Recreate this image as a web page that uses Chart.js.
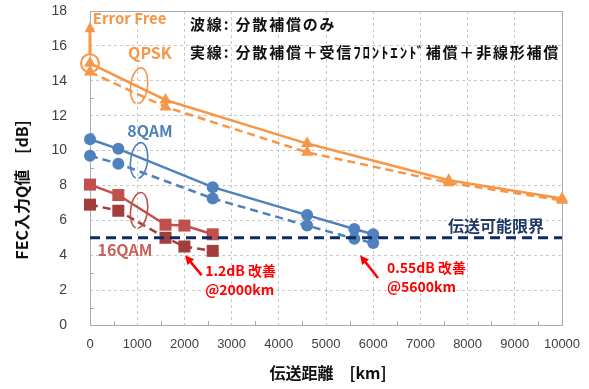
<!DOCTYPE html>
<html>
<head>
<meta charset="utf-8">
<script src="https://cdn.jsdelivr.net/npm/chart.js@4/dist/chart.umd.min.js"></script>
<style>
  html, body { margin: 0; padding: 0; background: #fff; }
</style>
</head>
<body>
<canvas id="c" width="589" height="389"></canvas>
<script>
// distances [km] and FEC input Q [dB]
var qpskDist    = [0, 1600, 4600, 7600, 10000];
var qpskFull    = [15.0, 12.9, 10.4, 8.3, 7.25];
var qpskCdOnly  = [14.5, 12.5, 9.9, 8.15, 7.15];

var qam8Dist    = [0, 600, 2600, 4600, 5600, 6000];
var qam8Full    = [10.65, 10.1, 7.9, 6.3, 5.5, 5.2];
var qam8CdOnly  = [9.7, 9.25, 7.25, 5.7, 4.95, 4.7];

var qam16Dist   = [0, 600, 1600, 2000, 2600];
var qam16Full   = [8.05, 7.45, 5.75, 5.7, 5.2];
var qam16CdOnly = [6.9, 6.55, 5.0, 4.5, 4.25];

var limitDist   = [0, 10000];
var limitQ      = [5, 5];
var errorFreeQ  = [15.0, 17.4];

var xTicks = [0, 1000, 2000, 3000, 4000, 5000, 6000, 7000, 8000, 9000, 10000];
var yTicks = [0, 2, 4, 6, 8, 10, 12, 14, 16, 18];

var ORANGE = '#F79646', BLUE = '#4F81BD', RED = '#C0504D', RED_DK = '#A23F3C', NAVY = '#0E2A62';
var JP = '"Noto Sans CJK JP", "Noto Sans", sans-serif';

function pts(xs, ys) {
	return xs.map(function(x, i) { return {x: x, y: ys[i]}; });
}

function series(xs, ys, color, style, radius, dashed) {
	return {
		data: pts(xs, ys),
		showLine: true,
		borderColor: color,
		backgroundColor: color,
		borderWidth: 2.5,
		borderDash: dashed ? [8, 5] : [],
		pointStyle: style,
		pointRadius: radius,
		pointBorderWidth: 0,
		clip: false
	};
}

// fixed axis boxes; the tick label overhang must not push the plot area in
function fixBox(s) {
	if (s.isHorizontal()) {
		s.height = 64;
	} else {
		s.width = 90;
	}
	s.paddingTop = s.paddingBottom = s.paddingLeft = s.paddingRight = 0;
}

var annotations = {
	id: 'annotations',
	beforeDatasetsDraw: function(chart) {
		var a = chart.chartArea, ctx = chart.ctx,
			xs = chart.scales.x, ys = chart.scales.y, i, p;
		ctx.save();
		ctx.strokeStyle = '#A6AAB2';
		ctx.lineWidth = 1;
		ctx.strokeRect(a.left + 0.5, a.top + 0.5, a.right - a.left, a.bottom - a.top);
		// small minor ticks on the axes
		ctx.beginPath();
		for (i = 500; i < 10000; i += 1000) {
			p = Math.round(xs.getPixelForValue(i)) + 0.5;
			ctx.moveTo(p, a.bottom); ctx.lineTo(p, a.bottom - 4);
		}
		for (i = 1; i < 18; i += 2) {
			p = Math.round(ys.getPixelForValue(i)) + 0.5;
			ctx.moveTo(a.left, p); ctx.lineTo(a.left + 4, p);
		}
		ctx.stroke();
		ctx.restore();
	},
	afterDatasetsDraw: function(chart) {
		var ctx = chart.ctx, xs = chart.scales.x, ys = chart.scales.y;
		function X(v) { return xs.getPixelForValue(v); }
		function Y(v) { return ys.getPixelForValue(v); }
		function text(str, x, y, color, size, align) {
			ctx.font = 'bold ' + size + 'px ' + JP;
			ctx.fillStyle = color;
			ctx.textAlign = align || 'left';
			ctx.textBaseline = 'middle';
			ctx.fillText(str, X(x), Y(y));
		}
		function arrow(ax, ay, bx, by, color, width, head) {
			var ang = Math.atan2(by - ay, bx - ax);
			ctx.strokeStyle = color;
			ctx.fillStyle = color;
			ctx.lineWidth = width;
			ctx.beginPath();
			ctx.moveTo(ax, ay);
			ctx.lineTo(bx - Math.cos(ang) * head * 0.8, by - Math.sin(ang) * head * 0.8);
			ctx.stroke();
			ctx.beginPath();
			ctx.moveTo(bx, by);
			ctx.lineTo(bx - head * Math.cos(ang - 0.45), by - head * Math.sin(ang - 0.45));
			ctx.lineTo(bx - head * Math.cos(ang + 0.45), by - head * Math.sin(ang + 0.45));
			ctx.closePath();
			ctx.fill();
		}
		function dataArrow(x1, y1, x2, y2, color, width, head) {
			arrow(X(x1), Y(y1), X(x2), Y(y2), color, width, head);
		}
		function loop(x, y, color) {
			ctx.strokeStyle = color;
			ctx.lineWidth = 1.6;
			ctx.beginPath();
			ctx.ellipse(X(x), Y(y), 8.5, 18, 0.12, 0.55 * Math.PI, 2.45 * Math.PI);
			ctx.stroke();
		}

		ctx.save();

		// error free arrow, starting at the top of the open circle
		arrow(X(0), Y(errorFreeQ[0]) - 9, X(0), Y(errorFreeQ[1]), ORANGE, 3, 12);
		text('Error Free', 60, 17.6, ORANGE, 15);

		ctx.letterSpacing = '1.8px';
		text('波線: 分散補償のみ', 2120, 17.25, '#111', 15);
		text('実線: 分散補償＋受信ﾌﾛﾝﾄｴﾝﾄﾞ補償＋非線形補償', 2120, 15.66, '#111', 15);
		ctx.letterSpacing = '0px';

		text('QPSK', 1270, 15.6, ORANGE, 16, 'center');
		text('8QAM', 1270, 11.14, BLUE, 16, 'center');
		text('16QAM', 740, 4.29, '#CB5F5B', 16, 'center');
		text('伝送可能限界', 8600, 5.66, '#1F3864', 16, 'center');

		loop(1040, 13.71, ORANGE);
		loop(1040, 9.43, BLUE);
		loop(1040, 6.57, RED);

		dataArrow(2364, 2.86, 2013, 4.0, '#FF0000', 2.5, 10);
		text('1.2dB 改善', 2440, 3.09, '#FF0000', 14);
		text('@2000km', 2440, 2.0, '#FF0000', 14);

		dataArrow(6102, 2.69, 5720, 4.0, '#FF0000', 2.5, 10);
		text('0.55dB 改善', 6292, 3.31, '#FF0000', 14);
		text('@5600km', 6292, 2.17, '#FF0000', 14);

		ctx.restore();
	},
	afterDraw: function(chart) {
		var ctx = chart.ctx;
		ctx.save();
		ctx.fillStyle = '#111';
		ctx.font = 'bold 16px ' + JP;
		ctx.textAlign = 'center';
		ctx.textBaseline = 'middle';
		ctx.fillText('伝送距離　[km]', 328, 373);
		ctx.translate(22, 190);
		ctx.rotate(-Math.PI / 2);
		ctx.fillText('FEC入力Q値　[dB]', 0, 0);
		ctx.restore();
	}
};

var openCircle = {
	data: pts([0], [errorFreeQ[0]]),
	pointStyle: 'circle',
	pointRadius: 9,
	pointBorderWidth: 2,
	borderColor: ORANGE,
	backgroundColor: 'rgba(0,0,0,0)',
	clip: false
};

var limitLine = {
	data: pts(limitDist, limitQ),
	showLine: true,
	borderColor: NAVY,
	borderWidth: 3,
	borderDash: [10, 6],
	pointRadius: 0,
	clip: false
};

new Chart(document.getElementById('c').getContext('2d'), {
	type: 'scatter',
	data: {
		datasets: [
			openCircle,
			limitLine,
			series(qpskDist, qpskFull, ORANGE, 'triangle', 7, false),
			series(qpskDist, qpskCdOnly, ORANGE, 'triangle', 7, true),
			series(qam8Dist, qam8Full, BLUE, 'circle', 6, false),
			series(qam8Dist, qam8CdOnly, BLUE, 'circle', 6, true),
			series(qam16Dist, qam16Full, RED, 'rect', 8.5, false),
			series(qam16Dist, qam16CdOnly, RED_DK, 'rect', 8.5, true)
		]
	},
	options: {
		responsive: false,
		animation: false,
		devicePixelRatio: 1,
		layout: { padding: { left: 0, top: 10, right: 27, bottom: 0 } },
		plugins: { legend: { display: false }, tooltip: { enabled: false } },
		scales: {
			x: {
				type: 'linear', min: 0, max: 10000,
				afterBuildTicks: function(s) { s.ticks = xTicks.map(function(v) { return {value: v}; }); },
				afterFit: fixBox,
				grid: { color: '#C9C9C9', drawTicks: false },
				border: { display: false, dash: [3, 3] },
				ticks: {
					padding: 12, color: '#404040', maxRotation: 0,
					font: { family: '"Liberation Sans", sans-serif', size: 13 },
					callback: function(v) { return String(v); }
				}
			},
			y: {
				type: 'linear', min: 0, max: 18,
				afterBuildTicks: function(s) { s.ticks = yTicks.map(function(v) { return {value: v}; }); },
				afterFit: fixBox,
				grid: { color: '#C9C9C9', drawTicks: false },
				border: { display: false, dash: [3, 3] },
				ticks: {
					padding: 23, color: '#404040',
					font: { family: '"Liberation Sans", sans-serif', size: 14 },
					callback: function(v) { return String(v); }
				}
			}
		}
	},
	plugins: [annotations]
});
</script>
</body>
</html>
